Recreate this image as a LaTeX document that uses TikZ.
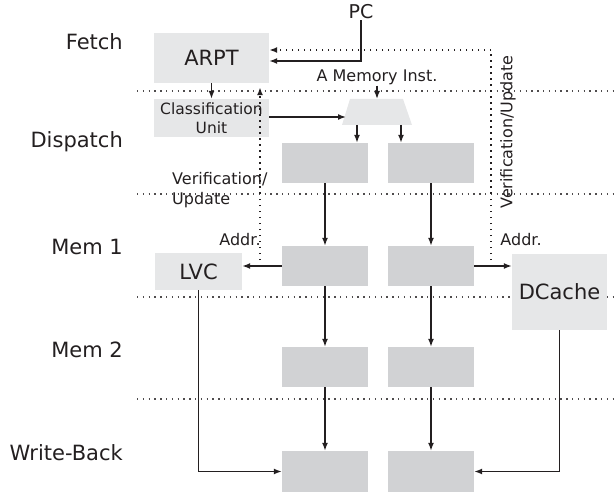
\documentclass[tikz,border=0pt]{standalone}
\usepackage{fontspec}
\setmainfont{DejaVu Sans}
\usetikzlibrary{arrows.meta}
\definecolor{ink}{HTML}{231F20}
\definecolor{boxlight}{HTML}{E6E7E8}
\definecolor{boxdark}{HTML}{D1D2D4}
\tikzset{
	lightbox/.style={fill=boxlight,inner sep=0pt,text=ink,font=\fontsize{21}{24}\selectfont},
	darkbox/.style={fill=boxdark,inner sep=0pt,minimum width=86pt,minimum height=40pt},
	stage/.style={anchor=east,text=ink,inner sep=0pt,font=\fontsize{21}{24}\selectfont},
	lbl/.style={text=ink,inner sep=1pt,font=\fontsize{16}{19.5}\selectfont},
	flow/.style={draw=ink,line width=1.5pt,-{Latex[length=8pt,width=6pt]}},
	feedback/.style={draw=ink,line width=1.6pt,dash pattern=on 1.5pt off 4.5pt,-{Latex[length=8pt,width=6pt]}},
	sepline/.style={draw=ink!80,line width=1.4pt,dash pattern=on 1.4pt off 4.4pt}
}
\begin{document}
\begin{tikzpicture}[x=1pt,y=-1pt]
					\useasboundingbox (0,0) rectangle (616,492);
					\foreach \y in {91,194,297,399}
						\draw [sepline](137,\y)--(616,\y);
					\node [stage] (sfetch) at (123,42) {Fetch};
					\node [stage] (sdisp) at (123,142) {Dispatch};
					\node [stage] (smemone) at (123,247) {Mem 1};
					\node [stage] (smemtwo) at (123,350) {Mem 2};
					\node [stage] (swb) at (123,453) {Write-Back};
					\node [lightbox,minimum width=115pt,minimum height=50pt] (arpt) at (211.5,58) {ARPT};
					\node [lightbox,minimum width=115pt,minimum height=38pt,align=center,font=\fontsize{15.5}{19}\selectfont] (cls) at (211.5,118) {Classification\\Unit};
					\node [lightbox,minimum width=87pt,minimum height=37pt] (lvc) at (198.5,271.5) {LVC};
					\node [lightbox,minimum width=95pt,minimum height=76pt] (dcache) at (559.5,292) {DCache};
					\fill [boxlight](350,99) -- (403,99) -- (412,125) -- (342,125) -- cycle;
					\coordinate (muxn) at (377,99);
					\coordinate (muxw) at (346,117);
					\coordinate (muxs) at (377,125);
					\node [darkbox] (dispa) at (325,163) {};
					\node [darkbox] (dispb) at (431,163) {};
					\node [darkbox] (memoa) at (325,266) {};
					\node [darkbox] (memob) at (431,266) {};
					\node [darkbox] (memta) at (325,367) {};
					\node [darkbox] (memtb) at (431,367) {};
					\node [darkbox,minimum height=41pt] (wba) at (325,471.5) {};
					\node [darkbox,minimum height=41pt] (wbb) at (431,471.5) {};
					\node [lbl,font=\fontsize{19}{22}\selectfont] (pc) at (361,12) {PC};
					\node [lbl] (meminst) at (377,77) {A Memory Inst.};
					\node [lbl,anchor=west,align=left] (verl) at (171,190) {Verification/\\Update};
					\node [lbl] (addrl) at (240,240) {Addr.};
					\node [lbl] (addrr) at (521,240) {Addr.};
					\node [lbl,rotate=90] (verr) at (508,132) {Verification/Update};
					\coordinate (vl) at (260,266);
					\coordinate (vr) at (491,266);
					\draw [flow](pc.south) |- ([yshift=-3pt]arpt.east);
					\draw [flow](arpt.south) -- (cls.north);
					\draw [flow](cls.east |- muxw) -- (muxw);
					\draw [flow](meminst.south) -- (muxn);
					\draw [flow]([xshift=-20pt]muxs) -- ([xshift=-20pt]muxs |- dispa.north);
					\draw [flow]([xshift=24pt]muxs) -- ([xshift=24pt]muxs |- dispb.north);
					\draw [flow](dispa) -- (memoa);
					\draw [flow](dispb) -- (memob);
					\draw [flow](memoa) -- (memta);
					\draw [flow](memob) -- (memtb);
					\draw [flow](memta) -- (wba);
					\draw [flow](memtb) -- (wbb);
					\draw [flow](memoa.west) -- (memoa.west -| lvc.east);
					\draw [flow](memob.east) -- (memob.east -| dcache.west);
					\draw [flow](lvc.south) |- (wba.west);
					\draw [flow](dcache.south) |- (wbb.east);
					\draw [feedback,shorten >=4pt](vl) -- (vl |- arpt.south);
					\draw [feedback](vr) |- ([yshift=8pt]arpt.east);
				\end{tikzpicture}
\end{document}
